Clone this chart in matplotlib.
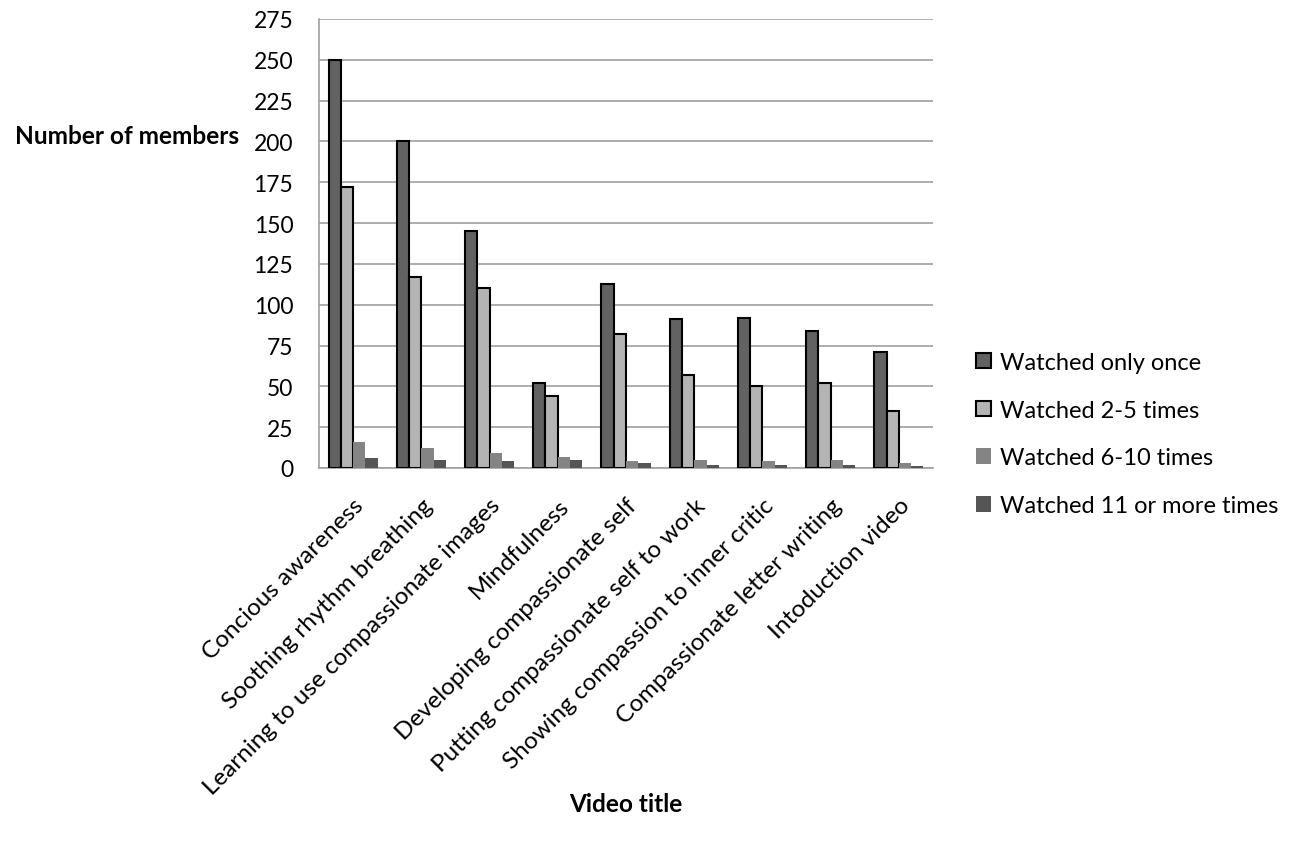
import numpy as np
import matplotlib
matplotlib.use('Agg')
import matplotlib.pyplot as plt

plt.rcParams['font.family'] = ['Lato', 'DejaVu Sans']

# 视频标题及观看次数
videos = ['Concious awareness', 'Soothing rhythm breathing',
          'Learning to use compassionate images', 'Mindfulness',
          'Developing compassionate self', 'Putting compassionate self to work',
          'Showing compassion to inner critic', 'Compassionate letter writing',
          'Intoduction video']
once = [250, 200, 145, 52, 113, 91, 92, 84, 71]
two_five = [172, 117, 110, 44, 82, 57, 50, 52, 35]
six_ten = [16, 12, 9, 7, 4, 5, 4, 5, 3]
eleven_plus = [6, 5, 4, 5, 3, 2, 2, 2, 1]

series = [
    ('Watched only once', once, '#626262', 'black'),
    ('Watched 2-5 times', two_five, '#b4b4b4', 'black'),
    ('Watched 6-10 times', six_ten, '#848484', 'none'),
    ('Watched 11 or more times', eleven_plus, '#555555', 'none'),
]

fig = plt.figure(figsize=(13.06, 8.45), dpi=100)
ax = fig.add_axes([319/1306, 1 - 469/845, (933-319)/1306, (469-20)/845])

x = np.arange(len(videos))
w = 0.18
for i, (label, vals, color, edge) in enumerate(series):
    ax.bar(x + (i - 1.5) * w, vals, width=w, color=color, edgecolor=edge,
           linewidth=1.5 if edge != 'none' else 0, label=label, zorder=3)

ax.set_xlim(-0.5, len(videos) - 0.5)
ax.set_ylim(0, 275)
ax.set_yticks(np.arange(0, 276, 25))
ax.yaxis.grid(True, color='#a0a0a0', linewidth=1.2, zorder=0)
ax.set_axisbelow(True)
for s in ['top', 'right']:
    ax.spines[s].set_visible(False)
ax.spines['left'].set_color('#a0a0a0')
ax.spines['bottom'].set_color('#a0a0a0')
ax.spines['left'].set_linewidth(1.2)
ax.spines['bottom'].set_linewidth(1.2)
ax.tick_params(axis='y', length=0, labelsize=16.5, pad=18.5)
ax.tick_params(axis='x', length=0, labelsize=17.5, pad=19)
ax.set_xticks(x)
ax.set_xticklabels(videos, rotation=45, ha='right', rotation_mode='anchor')

fig.text(15/1306, 1 - 137/845, 'Number of members', fontsize=17.6,
         fontweight='bold', va='center', ha='left')
fig.text(626/1306, 1 - 805/845, 'Video title', fontsize=17.6,
         fontweight='bold', va='center', ha='center')

fig.legend(loc='center left', bbox_to_anchor=(955/1306, 1 - 435/845),
           frameon=False, fontsize=17, handlelength=0.64, handleheight=0.64,
           handletextpad=0.38, labelspacing=1.13)

fig.savefig('out.png', dpi=100)
